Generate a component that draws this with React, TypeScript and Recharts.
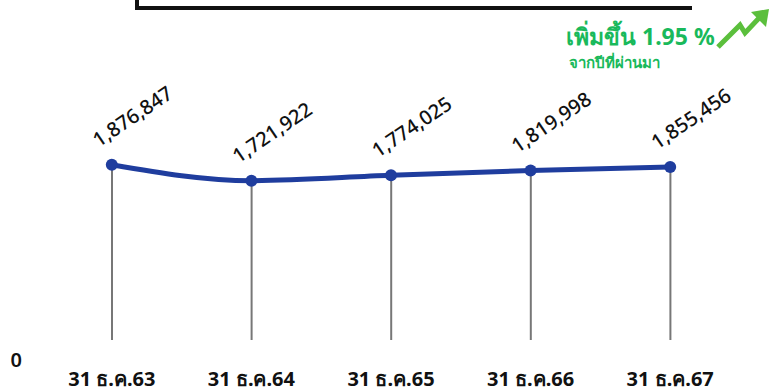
import React from "react";
import { ComposedChart, Line, Bar, XAxis, YAxis, LabelList } from "recharts";

const categories = ["31 ธ.ค.63", "31 ธ.ค.64", "31 ธ.ค.65", "31 ธ.ค.66", "31 ธ.ค.67"];
const values = [1876847, 1721922, 1774025, 1819998, 1855456];
const yTicks = [0];

const data = categories.map((name, i) => ({ name, value: values[i] }));

const LINE_COLOR = "#1f3d9e";
const STEM_COLOR = "#777777";

const Stem = (props: any) => {
  const { x, y, width, height } = props;
  const cx = x + width / 2;
  return <line x1={cx} y1={y} x2={cx} y2={y + height - 18} stroke={STEM_COLOR} strokeWidth={2} />;
};

const ValueLabel = (props: any) => {
  const { x, y, value } = props;
  const tx = x - 13;
  const ty = y - 17;
  return (
    <text
      x={tx}
      y={ty}
      transform={`rotate(-34, ${tx}, ${ty})`}
      textAnchor="start"
      fill="#111"
      fontSize={20}
      fontWeight={500}
      fontFamily="'Noto Sans', sans-serif"
    >
      {Number(value).toLocaleString("en-US")}
    </text>
  );
};

export default function App() {
  return (
    <div style={{ position: "absolute", left: 0, top: 0, width: 775, height: 391, overflow: "hidden", background: "#fff" }}>
      <div
        style={{
          position: "absolute",
          left: 135,
          top: -50,
          width: 557,
          height: 60,
          boxSizing: "border-box",
          borderLeft: "4px solid #111",
          borderBottom: "4px solid #111",
        }}
      />
      <div
        style={{
          position: "absolute",
          left: 566,
          top: 21,
          color: "#19b95b",
          fontFamily: "'Noto Sans', sans-serif",
          fontWeight: 700,
          fontSize: 23,
          lineHeight: "30px",
          whiteSpace: "nowrap",
        }}
      >
        เพิ่มขึ้น 1.95 %
      </div>
      <div
        style={{
          position: "absolute",
          left: 569,
          top: 52,
          color: "#19b95b",
          fontFamily: "'Noto Sans', sans-serif",
          fontWeight: 700,
          fontSize: 15,
          lineHeight: "20px",
          whiteSpace: "nowrap",
        }}
      >
        จากปีที่ผ่านมา
      </div>
      <svg style={{ position: "absolute", left: 700, top: 0 }} width={75} height={60}>
        <polyline points="18,47 40,25 45,33 60,17" fill="none" stroke="#5bbf3c" strokeWidth={5} />
        <polygon points="69,9 51,12 66,27" fill="#5bbf3c" />
      </svg>
      <ComposedChart
        width={775}
        height={391}
        data={data}
        margin={{ top: 152, right: 35, bottom: 0, left: 0 }}
        style={{ position: "absolute", left: 0, top: 0 }}
      >
        <XAxis
          dataKey="name"
          axisLine={false}
          tickLine={false}
          height={33}
          tick={{ fill: "#111", fontSize: 20, fontWeight: 700, fontFamily: "'Noto Sans', sans-serif" }}
          tickMargin={8}
        />
        <YAxis
          domain={[0, 2000000]}
          ticks={yTicks}
          axisLine={false}
          tickLine={false}
          width={42}
          tick={{ fill: "#111", fontSize: 20, fontWeight: 600, fontFamily: "'Noto Sans', sans-serif" }}
          dx={-12}
          dy={2}
        />
        <Bar dataKey="value" barSize={2} shape={<Stem />} isAnimationActive={false} />
        <Line
          type="monotone"
          dataKey="value"
          stroke={LINE_COLOR}
          strokeWidth={5}
          dot={{ r: 6, fill: LINE_COLOR, stroke: LINE_COLOR, strokeWidth: 0 }}
          activeDot={false}
          isAnimationActive={false}
        >
          <LabelList dataKey="value" content={<ValueLabel />} />
        </Line>
      </ComposedChart>
    </div>
  );
}
